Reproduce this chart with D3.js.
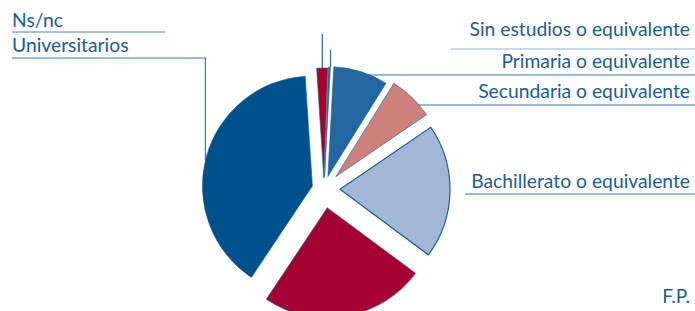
<!DOCTYPE html>
<html><head><meta charset="utf-8">
<script src="https://cdn.jsdelivr.net/npm/d3@7"></script>
<style>body{margin:0;background:#fff}svg{display:block}text{font-family:Lato,"Open Sans",sans-serif}</style>
</head><body>
<svg id="c" width="695" height="311"></svg>
<script>
// ---- data ----
const categories = ["Sin estudios o equivalente","Primaria o equivalente","Secundaria o equivalente","Bachillerato o equivalente","F.P.","Universitarios","Ns/nc"];
const values = [0.3, 8.0, 6.6, 19.7, 24.2, 39.6, 1.6];

// ---- style / layout ----
const colors = ["#2367a0","#2367a0","#cd807c","#a2b7d5","#a50034","#00518b","#a6002f"];
const explode = [12, 13, 17, 16, 19, 12, 11];
const cx = 324, cy = 189, R = 110;
const textColor = "#1d5c98";

const svg = d3.select("#c");
const pie = d3.pie().sort(null).value(d => d).startAngle(2*Math.PI/180).endAngle(2*Math.PI + 2*Math.PI/180);
const arcs = pie(values);
const arc = d3.arc().innerRadius(0).outerRadius(R);

function apex(i){
  const a = (arcs[i].startAngle + arcs[i].endAngle)/2;
  return [cx + explode[i]*Math.sin(a), cy - explode[i]*Math.cos(a)];
}
function onArc(i, deg){
  const p = apex(i), a = deg*Math.PI/180;
  return [p[0] + R*Math.sin(a), p[1] - R*Math.cos(a)];
}

// leader lines (drawn under slices)
const lead = svg.append("g").attr("fill","none").attr("stroke-width",1.2);
// Ns/nc
{ const p = onArc(6, 359.2); lead.append("path").attr("d", `M${p[0]},${p[1]}V34`).attr("stroke","#2a6aa3");
  lead.append("path").attr("d","M12,32H165").attr("stroke","#4a82b6"); }
// Sin estudios
{ const p = onArc(0, 2.6); lead.append("path").attr("d", `M${p[0]+1},${p[1]}V50`).attr("stroke","#2a6aa3");
  lead.append("path").attr("d","M451,49H695").attr("stroke","#93b3d5"); }
// Universitarios
{ const p = onArc(5, 283.4); lead.append("path").attr("d", `M${p[0]},${p[1]}V58H12`).attr("stroke","#3a76ad"); }
// Primaria
{ const p = onArc(1, 20); lead.append("path").attr("d", `M${p[0]-6},75H695`).attr("stroke","#3a76ad"); }
// Secundaria
{ const p = onArc(2, 48); lead.append("path").attr("d", `M${p[0]-4},105H695`).attr("stroke","#3a76ad"); }
// Bachillerato
lead.append("path").attr("d","M465,194H695").attr("stroke","#3a76ad");

// slices
svg.append("g").selectAll("path").data(arcs).join("path")
  .attr("transform",(d,i)=>`translate(${apex(i)})`)
  .attr("d", arc)
  .attr("fill",(d,i)=>colors[i])
  .attr("stroke",(d,i)=> i===0 ? "#2367a0" : "#1f5e99")
  .attr("stroke-width",(d,i)=> i===3 ? 1.2 : 0.6);

// labels
const labels = [
  {i:0, x:690, y:36, anchor:"end"},
  {i:1, x:690, y:68, anchor:"end"},
  {i:2, x:690, y:98, anchor:"end"},
  {i:3, x:690, y:188, anchor:"end"},
  {i:4, x:690, y:303, anchor:"end"},
  {i:5, x:12, y:52, anchor:"start"},
  {i:6, x:12, y:27, anchor:"start"}
];
svg.append("g").selectAll("text").data(labels).join("text")
  .attr("x",d=>d.x).attr("y",d=>d.y).attr("text-anchor",d=>d.anchor)
  .attr("fill",textColor).attr("font-size",19.3)
  .text(d=>categories[d.i]);
</script>
</body></html>
